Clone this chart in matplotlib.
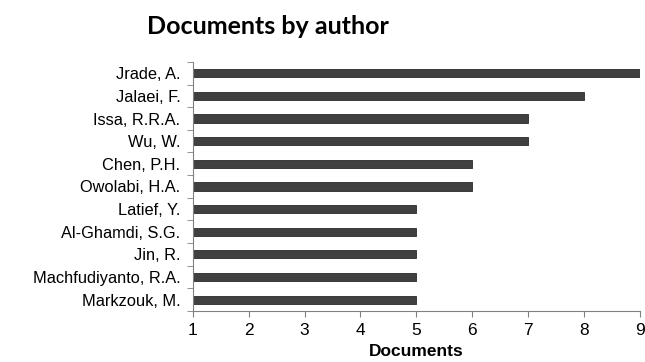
import numpy as np
import matplotlib
matplotlib.use("Agg")
import matplotlib.pyplot as plt

authors = ["Jrade, A.", "Jalaei, F.", "Issa, R.R.A.", "Wu, W.", "Chen, P.H.",
           "Owolabi, H.A.", "Latief, Y.", "Al-Ghamdi, S.G.", "Jin, R.",
           "Machfudiyanto, R.A.", "Markzouk, M."]
documents = [9, 8, 7, 7, 6, 6, 5, 5, 5, 5, 5]
x_ticks = [1, 2, 3, 4, 5, 6, 7, 8, 9]

plt.rcParams["font.family"] = ["Liberation Sans", "DejaVu Sans"]

fig = plt.figure(figsize=(6.45, 3.62), dpi=100)
ax = fig.add_axes([0.299, 0.141, 0.693, 0.688])

y = np.arange(len(authors))
ax.barh(y, [d - 1 for d in documents], left=1, height=0.36,
        color="#404040", edgecolor="#2a2a2a", linewidth=0.6)

ax.set_xlim(1, 9)
ax.set_ylim(len(authors) - 0.5, -0.5)
ax.set_xticks(x_ticks)
ax.set_xticklabels([str(t) for t in x_ticks], fontsize=12.5)
ax.set_yticks(y)
ax.set_yticklabels(authors, fontsize=11.8)
ax.tick_params(axis="y", length=0, pad=9)
ax.set_yticks(np.arange(-0.5, len(authors)), minor=True)
ax.tick_params(axis="y", which="minor", length=4, color="#808080")
ax.tick_params(axis="x", length=4, color="#808080", pad=5)

for s in ["top", "right"]:
    ax.spines[s].set_visible(False)
ax.spines["left"].set_color("#808080")
ax.spines["bottom"].set_color("#808080")

ax.set_xlabel("Documents", fontsize=12.5, fontweight="bold", labelpad=4)
fig.text(0.416, 0.928, "Documents by author", ha="center", va="center",
         fontsize=18, fontweight="bold", family=["Lato", "DejaVu Sans"])

fig.savefig("out.png", dpi=100)
